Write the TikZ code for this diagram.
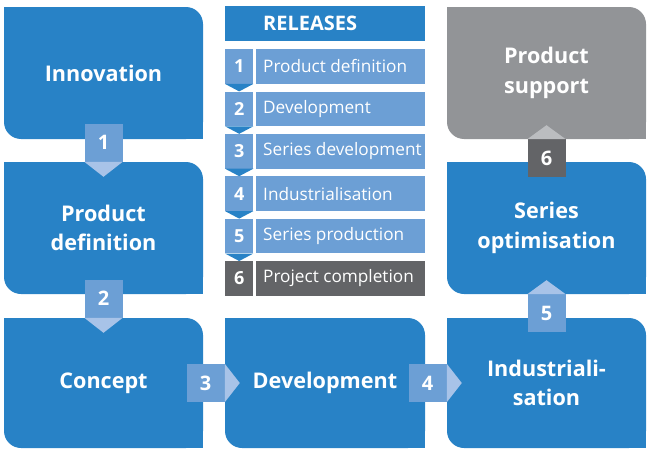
\documentclass[tikz,border=0pt]{standalone}
\usepackage{fontspec}
\setmainfont{Open Sans}
\definecolor{boxblue}{HTML}{2882C6}
\definecolor{midblue}{HTML}{6C9FD5}
\definecolor{lightblue}{HTML}{A8C3E8}
\definecolor{boxgray}{HTML}{929497}
\definecolor{darkgray}{HTML}{636467}
\definecolor{lightgray}{HTML}{BBBDC0}
\tikzset{
  bigbox/.style={fill=#1, rounded corners=17pt, inner sep=0pt, minimum width=199pt,
    minimum height=132pt, text=white, align=center,
    font=\bfseries\fontsize{21.6}{29.5}\selectfont},
  relsq/.style={fill=#1, minimum width=38pt, minimum height=38pt, inner sep=0pt,
    text=white, font=\bfseries\fontsize{20}{24}\selectfont},
  relhead/.style={fill=boxblue, minimum width=200pt, minimum height=35pt, inner xsep=7pt,
    inner ysep=0pt, text=white, font=\bfseries\fontsize{20}{24}\selectfont},
  numbox/.style={fill=#1, minimum width=28pt, minimum height=34.5pt, inner sep=0pt,
    anchor=north west, text=white, font=\bfseries\fontsize{18}{22}\selectfont},
  itembox/.style={fill=#1, minimum width=169pt, minimum height=34.5pt, inner xsep=7pt,
    inner ysep=0pt, anchor=north west, text=white, font=\fontsize{17.2}{22}\selectfont},
}
\newcommand{\sqcorners}[2]{%
  \fill[#2] (#1.north west) rectangle ++(17pt,-17pt);
  \fill[#2] (#1.south east) rectangle ++(-17pt,17pt);}
\begin{document}
\begin{tikzpicture}[x=1pt,y=-1pt]
\useasboundingbox (0,0) rectangle (649,450);
% big boxes
\node[bigbox=boxblue] (inno) at (103.5,73) {Innovation};
\node[bigbox=boxblue] (prod) at (103.5,228) {Product\\definition};
\node[bigbox=boxblue, minimum height=130pt] (conc) at (103.5,383) {Concept};
\node[bigbox=boxblue, minimum width=200pt, minimum height=130pt] (dev) at (325,383) {Development};
\node[bigbox=boxblue, minimum height=130pt] (ind) at (546.5,383) {Industriali-\\sation};
\node[bigbox=boxblue] (opt) at (546.5,228) {Series\\optimisation};
\node[bigbox=boxgray] (supp) at (546.5,73) {Product\\support};
\sqcorners{inno}{boxblue}
\sqcorners{prod}{boxblue}
\sqcorners{conc}{boxblue}
\sqcorners{dev}{boxblue}
\sqcorners{ind}{boxblue}
\sqcorners{opt}{boxblue}
\sqcorners{supp}{boxgray}
% release arrows
\node[relsq=midblue, anchor=south] (a1) at (prod.north) {1};
\fill[lightblue] (a1.south west) -- (a1.south east) -- ([yshift=-15pt]a1.south) -- cycle;
\node[relsq=midblue, anchor=south] (a2) at (conc.north) {2};
\fill[lightblue] (a2.south west) -- (a2.south east) -- ([yshift=-15pt]a2.south) -- cycle;
\node[relsq=midblue, anchor=east] (a3) at (dev.west) {3};
\fill[lightblue] (a3.north east) -- (a3.south east) -- ([xshift=15pt]a3.east) -- cycle;
\node[relsq=midblue, anchor=east] (a4) at (ind.west) {4};
\fill[lightblue] (a4.north east) -- (a4.south east) -- ([xshift=15pt]a4.east) -- cycle;
\node[relsq=midblue, anchor=north] (a5) at (opt.south) {5};
\fill[lightblue] (a5.north west) -- (a5.north east) -- ([yshift=14pt]a5.north) -- cycle;
\node[relsq=darkgray, anchor=north] (a6) at (supp.south) {6};
\fill[lightgray] (a6.north west) -- (a6.north east) -- ([yshift=14pt]a6.north) -- cycle;
% releases list
\node[relhead, anchor=north west] (rel) at (225,6) {\makebox[186pt][l]{\hspace*{31pt}RELEASES}};
\node[numbox=midblue] (n1) at (225,49) {1};
\node[itembox=midblue] (t1) at (256,49) {\makebox[155pt][l]{Product definition}};
\node[numbox=midblue] (n2) at (225,91.4) {2};
\node[itembox=midblue] (t2) at (256,91.4) {\makebox[155pt][l]{Development}};
\node[numbox=midblue] (n3) at (225,133.8) {3};
\node[itembox=midblue] (t3) at (256,133.8) {\makebox[155pt][l]{Series development}};
\node[numbox=midblue] (n4) at (225,176.2) {4};
\node[itembox=midblue] (t4) at (256,176.2) {\makebox[155pt][l]{Industrialisation}};
\node[numbox=midblue] (n5) at (225,218.6) {5};
\node[itembox=midblue] (t5) at (256,218.6) {\makebox[155pt][l]{Series production}};
\node[numbox=darkgray] (n6) at (225,261) {6};
\node[itembox=darkgray] (t6) at (256,261) {\makebox[155pt][l]{Project completion}};
\foreach \i/\j in {n1/n2,n2/n3,n3/n4,n4/n5,n5/n6}{
  \fill[boxblue] (\i.south west) -- (\i.south east) -- (\j.north) -- cycle;
}
\end{tikzpicture}
\end{document}
